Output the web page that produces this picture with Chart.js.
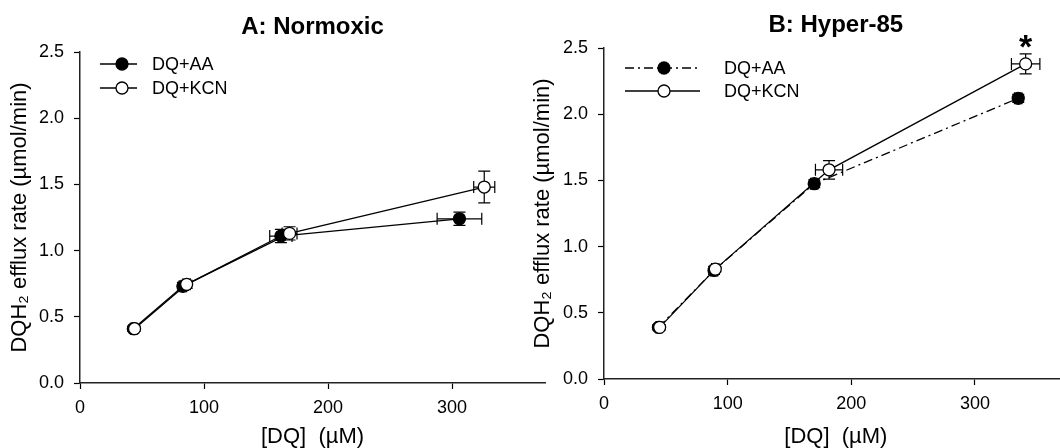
<!DOCTYPE html>
<html>
<head>
<meta charset="utf-8">
<script src="https://cdn.jsdelivr.net/npm/chart.js@4.4.1/dist/chart.umd.min.js"></script>
<style>
  html, body { margin: 0; padding: 0; background: #fff; overflow: hidden; }
  #wrap { position: relative; width: 1060px; height: 448px; overflow: hidden; }
  canvas { position: absolute; top: 0; }
  #chartA { left: 0; }
  #chartB { left: 530px; }
</style>
</head>
<body>
<div id="wrap">
  <canvas id="chartA" width="560" height="448"></canvas>
  <canvas id="chartB" width="545" height="448"></canvas>
</div>
<script>
// ---- data ----
const seriesNames = ['DQ+AA', 'DQ+KCN'];
const xTicks = [0, 100, 200, 300];

// A: Normoxic
const normAAx = [43, 83, 162, 306];
const normAAy = [0.41, 0.73, 1.11, 1.24];
const normAAxErr = [2, 3, 9, 18];
const normAAyErr = [0.02, 0.03, 0.05, 0.05];
const normKCNx = [44, 86, 169, 326];
const normKCNy = [0.41, 0.745, 1.13, 1.48];
const normKCNxErr = [2, 3, 6, 8.5];
const normKCNyErr = [0.02, 0.03, 0.05, 0.12];

// B: Hyper-85
const hypAAx = [44, 89, 170, 335];
const hypAAy = [0.39, 0.82, 1.475, 2.12];
const hypAAxErr = [2, 3, 3, 3];
const hypAAyErr = [0.02, 0.03, 0.03, 0.03];
const hypKCNx = [45, 90, 182, 341];
const hypKCNy = [0.39, 0.83, 1.58, 2.38];
const hypKCNxErr = [2, 3, 11, 11.5];
const hypKCNyErr = [0.02, 0.02, 0.07, 0.075];
const hypStar = [{x: 341, y: 2.55}];

Chart.defaults.font.family = '"Liberation Sans", Arial, sans-serif';
Chart.defaults.color = '#000';

function toPoints(xs, ys) {
    return xs.map((v, i) => ({x: v, y: ys[i]}));
}

// error bars, drawn under the lines and markers
const errorBars = {
    id: 'errorBars',
    beforeDatasetsDraw(chart) {
        const {ctx, scales: {x, y}} = chart;
        const cap = 6;
        ctx.save();
        ctx.strokeStyle = '#000';
        ctx.lineWidth = 1.2;
        chart.data.datasets.forEach(ds => {
            ds.data.forEach((p, i) => {
                const px = x.getPixelForValue(p.x);
                const py = y.getPixelForValue(p.y);
                const ye = ds.yErr[i], xe = ds.xErr[i];
                ctx.beginPath();
                const t = y.getPixelForValue(p.y + ye), b = y.getPixelForValue(p.y - ye);
                ctx.moveTo(px, t); ctx.lineTo(px, b);
                ctx.moveTo(px - cap, t); ctx.lineTo(px + cap, t);
                ctx.moveTo(px - cap, b); ctx.lineTo(px + cap, b);
                const l = x.getPixelForValue(p.x - xe), r = x.getPixelForValue(p.x + xe);
                ctx.moveTo(l, py); ctx.lineTo(r, py);
                ctx.moveTo(l, py - cap); ctx.lineTo(l, py + cap);
                ctx.moveTo(r, py - cap); ctx.lineTo(r, py + cap);
                ctx.stroke();
            });
        });
        ctx.restore();
    }
};

// panel title, legend and asterisk
const decorations = {
    id: 'decorations',
    afterDraw(chart, args, opts) {
        const {ctx, chartArea} = chart;
        ctx.save();
        // title
        ctx.font = 'bold 24px "Liberation Sans", Arial, sans-serif';
        ctx.fillStyle = '#000';
        ctx.textAlign = 'center';
        ctx.textBaseline = 'middle';
        ctx.fillText(opts.title, (chartArea.left + chartArea.right) / 2, opts.titleY);

        // legend
        const leg = opts.legend;
        ctx.font = '18px "Liberation Sans", Arial, sans-serif';
        ctx.textAlign = 'left';
        leg.order.forEach((dsIndex, row) => {
            const ds = chart.data.datasets[dsIndex];
            const yy = leg.rows[row];
            ctx.beginPath();
            ctx.setLineDash(ds.borderDash || []);
            ctx.lineWidth = ds.borderWidth;
            ctx.strokeStyle = '#000';
            ctx.moveTo(leg.x0, yy); ctx.lineTo(leg.x1, yy);
            ctx.stroke();
            ctx.setLineDash([]);
            ctx.beginPath();
            ctx.arc(leg.xm, yy, ds.pointRadius, 0, Math.PI * 2);
            ctx.fillStyle = ds.pointBackgroundColor;
            ctx.fill();
            ctx.lineWidth = ds.pointBorderWidth;
            ctx.stroke();
            ctx.fillStyle = '#000';
            ctx.fillText(ds.label, leg.xt, yy + 1);
        });

        // significance marks
        (opts.stars || []).forEach(s => {
            ctx.font = 'bold 34px "Liberation Sans", Arial, sans-serif';
            ctx.textAlign = 'center';
            ctx.textBaseline = 'middle';
            ctx.fillText('*', chart.scales.x.getPixelForValue(s.x), chart.scales.y.getPixelForValue(s.y) + 7);
        });
        ctx.restore();
    }
};

function makePanel(id, sets, layout) {
    const ctx = document.getElementById(id).getContext('2d');
    return new Chart(ctx, {
        type: 'line',
        data: {
            datasets: sets.map(s => ({
                label: s.label,
                data: toPoints(s.x, s.y),
                xErr: s.xErr,
                yErr: s.yErr,
                borderColor: '#000',
                borderWidth: 1.3,
                borderDash: s.dash || [],
                pointRadius: 6,
                pointBorderWidth: 1.3,
                pointBorderColor: '#000',
                pointBackgroundColor: s.fill,
                tension: 0,
                order: s.order
            }))
        },
        options: {
            responsive: false,
            animation: false,
            events: [],
            layout: {padding: {top: layout.top, right: layout.right, left: 0, bottom: 0}},
            scales: {
                x: {
                    type: 'linear',
                    min: 0,
                    max: 375,
                    afterBuildTicks: axis => { axis.ticks = xTicks.map(v => ({value: v})); },
                    afterFit: axis => { axis.height = layout.xHeight; },
                    grid: {drawOnChartArea: false, drawTicks: true, tickLength: 6, color: '#000', tickWidth: 1.2},
                    border: {color: '#222', width: 1.5},
                    ticks: {font: {size: 18}, padding: 8, maxRotation: 0, color: '#000'},
                    title: {display: true, text: '[DQ]  (\u00b5M)', font: {size: 22, lineHeight: 1}, padding: {top: 0, bottom: 0}, color: '#000'}
                },
                y: {
                    min: 0,
                    max: 2.5,
                    afterFit: axis => { axis.width = layout.yWidth; },
                    grid: {drawOnChartArea: false, drawTicks: true, tickLength: 6, color: '#000', tickWidth: 1.2},
                    border: {color: '#222', width: 1.5},
                    ticks: {stepSize: 0.5, font: {size: 18}, padding: 10, color: '#000', callback: v => v.toFixed(1)},
                    title: {display: true, text: 'DQH\u2082 efflux rate (\u00b5mol/min)', font: {size: 22, lineHeight: 1}, padding: {top: layout.yTitlePad, bottom: 0}, color: '#000'}
                }
            },
            plugins: {
                legend: {display: false},
                tooltip: {enabled: false},
                decorations: {
                    title: layout.title,
                    titleY: layout.titleY,
                    legend: layout.legend,
                    stars: layout.stars
                }
            }
        },
        plugins: [errorBars, decorations]
    });
}

makePanel('chartA', [
    {label: seriesNames[0], x: normAAx, y: normAAy, xErr: normAAxErr, yErr: normAAyErr, fill: '#000', order: 1},
    {label: seriesNames[1], x: normKCNx, y: normKCNy, xErr: normKCNxErr, yErr: normKCNyErr, fill: '#fff', order: 0}
], {
    top: 52, right: 15, xHeight: 65, yWidth: 80, yTitlePad: 9,
    title: 'A: Normoxic', titleY: 27,
    legend: {order: [0, 1], rows: [64, 88], x0: 100, x1: 137, xm: 122, xt: 152}
});

makePanel('chartB', [
    {label: seriesNames[0], x: hypAAx, y: hypAAy, xErr: hypAAxErr, yErr: hypAAyErr, fill: '#000', order: 1, dash: [9, 4, 2, 4]},
    {label: seriesNames[1], x: hypKCNx, y: hypKCNy, xErr: hypKCNxErr, yErr: hypKCNyErr, fill: '#fff', order: 0}
], {
    top: 48, right: 7, xHeight: 69, yWidth: 74, yTitlePad: 2,
    title: 'B: Hyper-85', titleY: 25,
    legend: {order: [0, 1], rows: [68, 91], x0: 95, x1: 170, xm: 134, xt: 194},
    stars: hypStar
});
</script>
</body>
</html>
